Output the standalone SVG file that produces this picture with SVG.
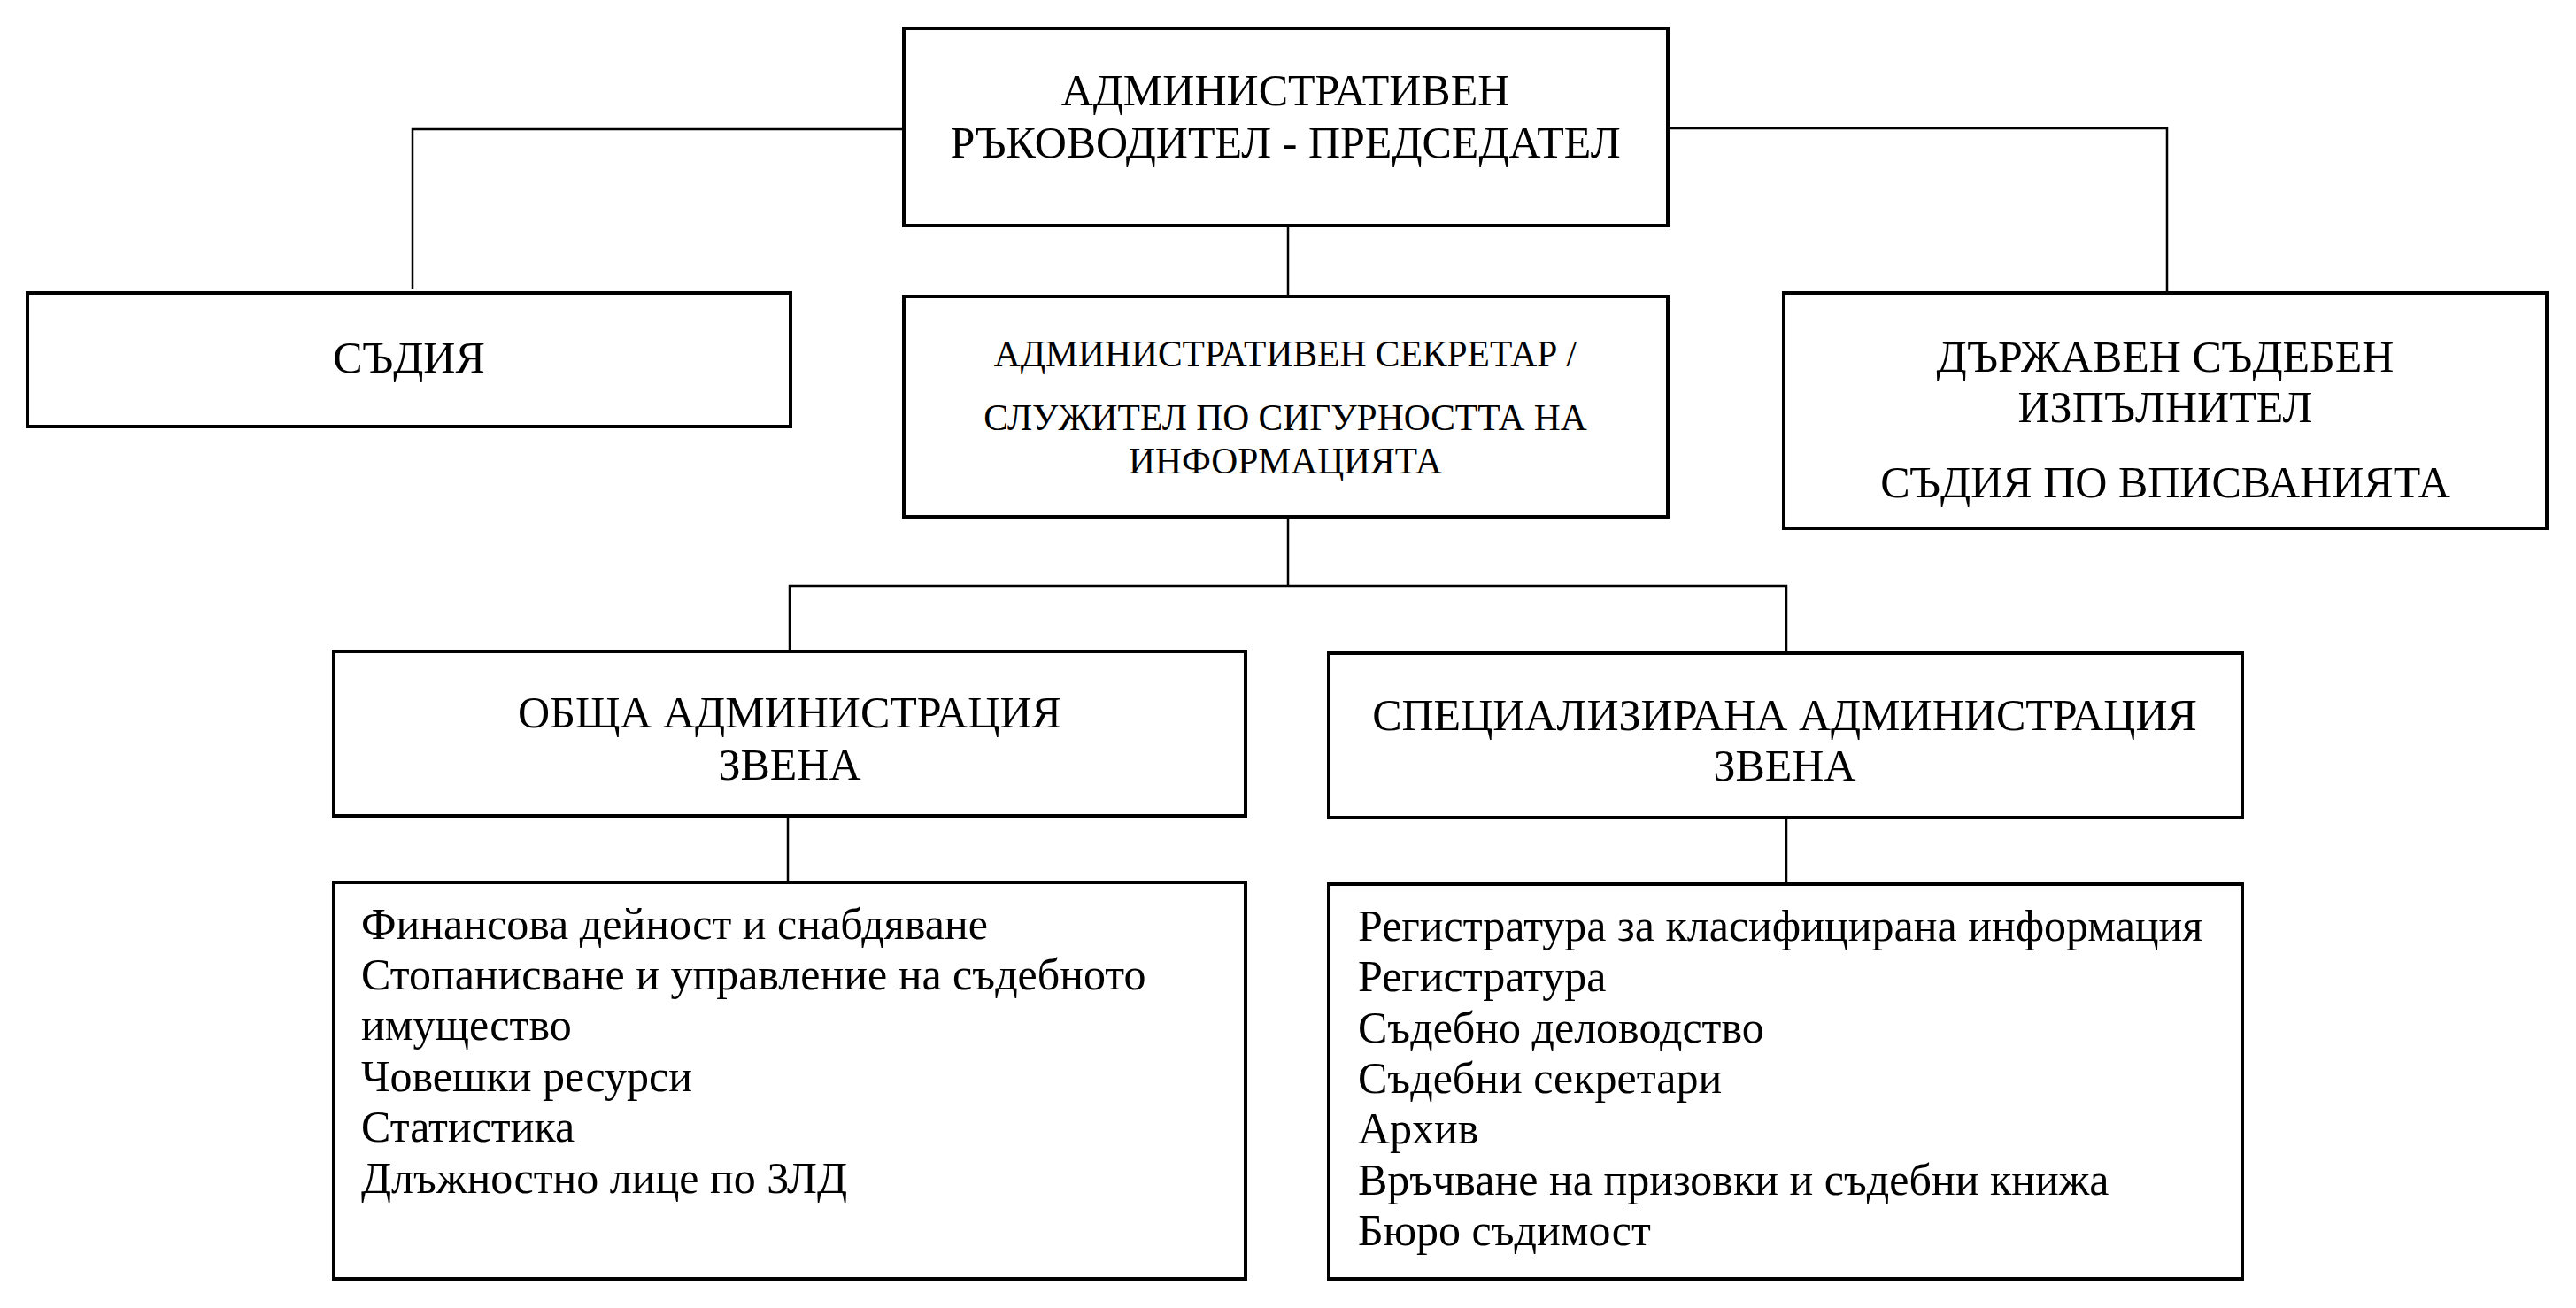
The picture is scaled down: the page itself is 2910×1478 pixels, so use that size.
<svg xmlns="http://www.w3.org/2000/svg" width="2910" height="1478" viewBox="0 0 2910 1478">
<style>
.box{fill:#fff;stroke:#000;stroke-width:4}
.con{fill:none;stroke:#000;stroke-width:2.5}
text{font-family:"Liberation Serif","Times New Roman",serif;fill:#000}
.c{text-anchor:middle}
.h{font-size:50px}
.s{font-size:41.5px}
.l{font-size:50px}
</style>
<rect width="2910" height="1478" fill="#fff"/>
<g id="connectors">
<polyline class="con" points="1021,146 466,146 466,326"/>
<polyline class="con" points="1884,145 2448,145 2448,331"/>
<line class="con" x1="1455" y1="254" x2="1455" y2="335"/>
<line class="con" x1="1455" y1="583" x2="1455" y2="662"/>
<polyline class="con" points="892,737 892,662 2018,662 2018,738"/>
<line class="con" x1="890" y1="921" x2="890" y2="997"/>
<line class="con" x1="2018" y1="923" x2="2018" y2="999"/>
</g>
<g id="n-chair">
<rect class="box" x="1021" y="32" width="863" height="223"/>
<text class="c h" x="1452" y="119">АДМИНИСТРАТИВЕН</text>
<text class="c h" x="1452" y="178">РЪКОВОДИТЕЛ - ПРЕДСЕДАТЕЛ</text>
</g>
<g id="n-judge">
<rect class="box" x="31" y="331" width="862" height="151"/>
<text class="c h" x="462" y="421">СЪДИЯ</text>
</g>
<g id="n-secretary">
<rect class="box" x="1021" y="335" width="863" height="249"/>
<text class="c s" x="1452" y="414">АДМИНИСТРАТИВЕН СЕКРЕТАР /</text>
<text class="c s" x="1452" y="486">СЛУЖИТЕЛ ПО СИГУРНОСТТА НА</text>
<text class="c s" x="1452" y="535">ИНФОРМАЦИЯТА</text>
</g>
<g id="n-bailiff">
<rect class="box" x="2015" y="331" width="862" height="266"/>
<text class="c h" x="2446" y="420">ДЪРЖАВЕН СЪДЕБЕН</text>
<text class="c h" x="2446" y="477">ИЗПЪЛНИТЕЛ</text>
<text class="c h" x="2446" y="562">СЪДИЯ ПО ВПИСВАНИЯТА</text>
</g>
<g id="n-general">
<rect class="box" x="377" y="736" width="1030" height="186"/>
<text class="c h" x="892" y="822">ОБЩА АДМИНИСТРАЦИЯ</text>
<text class="c h" x="892" y="881">ЗВЕНА</text>
</g>
<g id="n-special">
<rect class="box" x="1501" y="738" width="1032" height="186"/>
<text class="c h" x="2016" y="825">СПЕЦИАЛИЗИРАНА АДМИНИСТРАЦИЯ</text>
<text class="c h" x="2016" y="882">ЗВЕНА</text>
</g>
<g id="n-general-list">
<rect class="box" x="377" y="997" width="1030" height="448"/>
<text class="l" x="408" y="1061">Финансова дейност и снабдяване</text>
<text class="l" x="408" y="1118">Стопанисване и управление на съдебното</text>
<text class="l" x="408" y="1175">имущество</text>
<text class="l" x="408" y="1233">Човешки ресурси</text>
<text class="l" x="408" y="1290">Статистика</text>
<text class="l" x="408" y="1348">Длъжностно лице по ЗЛД</text>
</g>
<g id="n-special-list">
<rect class="box" x="1501" y="999" width="1032" height="446"/>
<text class="l" x="1534" y="1063">Регистратура за класифицирана информация</text>
<text class="l" x="1534" y="1120">Регистратура</text>
<text class="l" x="1534" y="1178">Съдебно деловодство</text>
<text class="l" x="1534" y="1235">Съдебни секретари</text>
<text class="l" x="1534" y="1292">Архив</text>
<text class="l" x="1534" y="1350">Връчване на призовки и съдебни книжа</text>
<text class="l" x="1534" y="1407">Бюро съдимост</text>
</g>
</svg>
